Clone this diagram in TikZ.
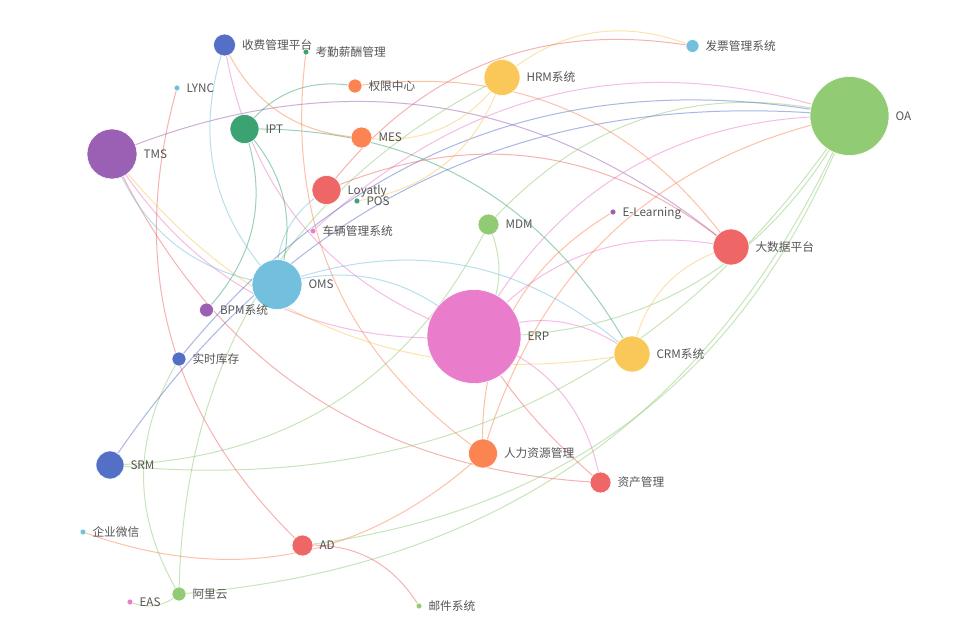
\documentclass[tikz,border=0pt]{standalone}
\usepackage{fontspec}
\setmainfont{Noto Sans CJK SC}
\usetikzlibrary{backgrounds}
\definecolor{cA}{HTML}{5470C6}
\definecolor{cB}{HTML}{91CC75}
\definecolor{cC}{HTML}{FAC858}
\definecolor{cD}{HTML}{EE6666}
\definecolor{cE}{HTML}{73C0DE}
\definecolor{cF}{HTML}{3BA272}
\definecolor{cG}{HTML}{FC8452}
\definecolor{cH}{HTML}{9A60B4}
\definecolor{cI}{HTML}{EA7CCC}
\definecolor{lblc}{HTML}{555555}
\tikzset{
  sys/.style 2 args={circle, fill=#1, draw=white, line width=0.6pt, inner sep=0pt, minimum size=#2},
  every label/.style={text=lblc, font=\fontsize{11.7}{14}\selectfont, inner sep=0pt, text height=8.8pt, text depth=0pt},
  link/.style={draw=#1, line width=1pt, draw opacity=0.5, bend left=31}
}
\begin{document}
\begin{tikzpicture}[x=1pt, y=1pt, label distance=6pt]
\useasboundingbox (0,0) rectangle (959,-636);

\node[sys={cA}{22pt}, label=right:收费管理平台] (sf) at (224.5,-45) {};
\node[sys={cF}{6pt}, label=right:考勤薪酬管理] (kq) at (306,-52) {};
\node[sys={cE}{6pt}, label=right:LYNC] (lync) at (177,-88) {};
\node[sys={cG}{14pt}, label=right:权限中心] (qx) at (355,-86) {};
\node[sys={cC}{36pt}, label=right:HRM系统] (hrm) at (502,-77.5) {};
\node[sys={cE}{13pt}, label=right:发票管理系统] (fp) at (692.5,-46) {};
\node[sys={cB}{79pt}, label=right:OA] (oa) at (849.5,-116) {};
\node[sys={cF}{29pt}, label=right:IPT] (ipt) at (244.5,-129) {};
\node[sys={cG}{21pt}, label=right:MES] (mes) at (361.5,-137.5) {};
\node[sys={cH}{50pt}, label=right:TMS] (tms) at (112,-154) {};
\node[sys={cD}{29pt}, label=right:Loyatly] (loy) at (326.5,-190) {};
\node[sys={cF}{6pt}, label=right:POS] (pos) at (357,-201) {};
\node[sys={cI}{6pt}, label=right:车辆管理系统] (cl) at (313,-231) {};
\node[sys={cB}{21pt}, label=right:MDM] (mdm) at (488.5,-224.5) {};
\node[sys={cH}{6pt}, label=right:E-Learning] (el) at (613,-212) {};
\node[sys={cD}{36pt}, label=right:大数据平台] (dsj) at (731,-247) {};
\node[sys={cE}{50pt}, label=right:OMS] (oms) at (277,-284.5) {};
\node[sys={cH}{14pt}, label=right:BPM系统] (bpm) at (206.5,-310) {};
\node[sys={cI}{94pt}, label=right:ERP] (erp) at (474,-336.5) {};
\node[sys={cC}{36pt}, label=right:CRM系统] (crm) at (632,-354) {};
\node[sys={cA}{14pt}, label=right:实时库存] (sskc) at (179,-359) {};
\node[sys={cG}{29pt}, label=right:人力资源管理] (rl) at (483,-453.5) {};
\node[sys={cD}{21pt}, label=right:资产管理] (zc) at (600.5,-482.5) {};
\node[sys={cA}{28pt}, label=right:SRM] (srm) at (110,-465) {};
\node[sys={cE}{6pt}, label=right:企业微信] (qywx) at (83,-532) {};
\node[sys={cD}{21pt}, label=right:AD] (ad) at (302.5,-545.5) {};
\node[sys={cI}{6pt}, label=right:EAS] (eas) at (130,-602) {};
\node[sys={cB}{14pt}, label=right:阿里云] (aly) at (179,-594) {};
\node[sys={cB}{6pt}, label=right:邮件系统] (yj) at (419,-606) {};

\begin{scope}[on background layer]
\fill[white] (0,0) rectangle (959,-636);
\draw[link=cH] (tms.center) to (dsj.center);
\draw[link=cI] (erp.center) to (tms.center);
\draw[link=cC] (crm.center) to (tms.center);
\draw[link=cD] (zc.center) to (tms.center);
\draw[link=cE] (oms.center) to (tms.center);
\draw[link=cE] (oms.center) to (sf.center);
\draw[link=cE] (oms.center) to (loy.center);
\draw[link=cE] (oms.center) to (crm.center);
\draw[link=cE] (oms.center) to (erp.center);
\draw[link=cI] (erp.center) to (sf.center);
\draw[link=cI] (erp.center) to (oa.center);
\draw[link=cI] (erp.center) to (dsj.center);
\draw[link=cI] (erp.center) to (crm.center);
\draw[link=cI] (erp.center) to (zc.center);
\draw[link=cI] (cl.center) to (oa.center);
\draw[link=cB] (mdm.center) to (erp.center);
\draw[link=cB] (mdm.center) to (oa.center);
\draw[link=cB] (mdm.center) to (srm.center);
\draw[link=cB] (oa.center) to (erp.center);
\draw[link=cB] (oa.center) to (srm.center);
\draw[link=cB] (oa.center) to (ad.center);
\draw[link=cB] (oa.center) to (aly.center);
\draw[link=cB] (aly.center) to (hrm.center);
\draw[link=cB] (aly.center) to (sskc.center);
\draw[link=cB] (aly.center) to (eas.center);
\draw[link=cA] (srm.center) to (oa.center);
\draw[link=cA] (sskc.center) to (oa.center);
\draw[link=cF] (ipt.center) to (qx.center);
\draw[link=cF] (ipt.center) to (crm.center);
\draw[link=cF] (ipt.center) to (bpm.center);
\draw[link=cF] (ipt.center) to (oms.center);
\draw[link=cG] (mes.center) to (sf.center);
\draw[link=cG] (qx.center) to (dsj.center);
\draw[link=cG] (rl.center) to (kq.center);
\draw[link=cG] (rl.center) to (el.center);
\draw[link=cG] (rl.center) to (oa.center);
\draw[link=cG] (rl.center) to (qywx.center);
\draw[link=cC] (hrm.center) to (fp.center);
\draw[link=cC] (hrm.center) to (mes.center);
\draw[link=cC] (hrm.center) to (pos.center);
\draw[link=cC] (crm.center) to (dsj.center);
\draw[link=cD] (loy.center) to (dsj.center);
\draw[link=cD] (loy.center) to (fp.center);
\draw[link=cD] (ad.center) to (lync.center);
\draw[link=cD] (ad.center) to (yj.center);
\draw[link=cD, bend left=8] (zc.center) to (erp.center);
\end{scope}
\end{tikzpicture}
\end{document}
